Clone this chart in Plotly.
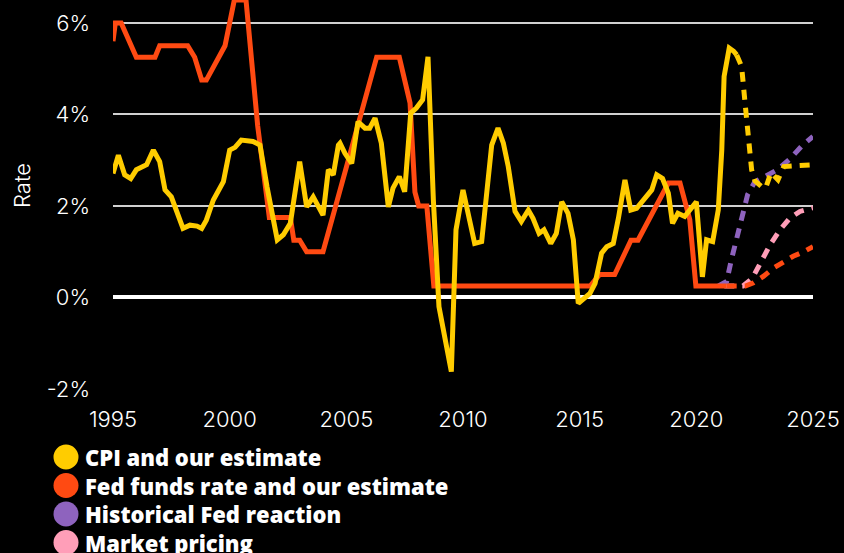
import plotly.graph_objects as go

# Fed funds rate (actual)
ffr_year = [1995.0, 1995.1, 1995.35, 1996.0, 1996.8, 1997.0, 1998.2, 1998.5, 1998.8, 1999.0,
            1999.8, 2000.2, 2000.7, 2001.2, 2001.7, 2002.6, 2002.75, 2003.0, 2003.3, 2004.0,
            2004.5, 2005.0, 2005.5, 2006.3, 2007.27, 2007.73, 2007.94, 2008.1, 2008.45, 2008.75,
            2015.45, 2015.85, 2016.5, 2017.2, 2017.5, 2018.8, 2019.3, 2019.72, 2019.98, 2021.3]
ffr_val = [5.6, 6.0, 6.0, 5.25, 5.25, 5.5, 5.5, 5.25, 4.75, 4.75,
           5.5, 6.5, 6.5, 3.75, 1.75, 1.75, 1.25, 1.25, 1.0, 1.0,
           1.92, 2.85, 3.77, 5.25, 5.25, 4.25, 2.3, 2.0, 2.0, 0.25,
           0.25, 0.5, 0.5, 1.25, 1.25, 2.5, 2.5, 1.7, 0.25, 0.25]

# Fed funds rate, our estimate
ffr_est_year = [2021.3, 2022.1, 2022.45, 2022.87, 2023.3, 2023.73, 2024.15, 2024.6, 2025.0]
ffr_est_val = [0.25, 0.25, 0.32, 0.46, 0.64, 0.78, 0.9, 1.0, 1.11]

# CPI (actual)
cpi_year = [1995.0, 1995.23, 1995.5, 1995.76, 1996.0, 1996.44, 1996.73, 1997.0, 1997.23, 1997.5,
            1998.0, 1998.3, 1998.6, 1998.8, 1999.0, 1999.3, 1999.73, 2000.0, 2000.23, 2000.5,
            2001.0, 2001.3, 2001.6, 2001.87, 2002.04, 2002.3, 2002.6, 2003.0, 2003.3, 2003.58,
            2004.0, 2004.23, 2004.44, 2004.66, 2004.73, 2004.94, 2005.23, 2005.5, 2005.8, 2006.0,
            2006.23, 2006.5, 2006.8, 2007.0, 2007.27, 2007.5, 2007.76, 2008.0, 2008.27, 2008.5,
            2008.73, 2008.97, 2009.5, 2009.7, 2010.0, 2010.5, 2010.8, 2011.23, 2011.5, 2011.73,
            2011.94, 2012.23, 2012.5, 2012.8, 2013.0, 2013.26, 2013.47, 2013.76, 2014.0, 2014.23,
            2014.5, 2014.73, 2014.94, 2015.44, 2015.66, 2015.94, 2016.16, 2016.44, 2016.66, 2016.94,
            2017.19, 2017.44, 2017.87, 2018.09, 2018.3, 2018.55, 2018.8, 2018.98, 2019.21, 2019.5,
            2020.0, 2020.26, 2020.44, 2020.7, 2020.94, 2021.09, 2021.19, 2021.41, 2021.6, 2021.73]
cpi_val = [2.71, 3.11, 2.68, 2.6, 2.79, 2.9, 3.22, 2.97, 2.35, 2.2,
           1.51, 1.58, 1.56, 1.51, 1.69, 2.13, 2.53, 3.22, 3.28, 3.44,
           3.41, 3.33, 2.42, 1.77, 1.26, 1.37, 1.62, 2.97, 1.98, 2.2,
           1.8, 2.79, 2.68, 3.33, 3.37, 3.15, 2.93, 3.84, 3.7, 3.7,
           3.92, 3.37, 1.98, 2.39, 2.64, 2.31, 4.03, 4.14, 4.32, 5.26,
           2.13, -0.2, -1.62, 1.48, 2.35, 1.18, 1.22, 3.33, 3.7, 3.37,
           2.86, 1.88, 1.66, 1.91, 1.73, 1.4, 1.48, 1.18, 1.4, 2.09,
           1.84, 1.26, -0.13, 0.09, 0.31, 0.97, 1.11, 1.18, 1.73, 2.57,
           1.91, 1.95, 2.2, 2.35, 2.68, 2.6, 2.28, 1.62, 1.84, 1.77,
           2.09, 0.45, 1.26, 1.22, 1.91, 3.22, 4.83, 5.45, 5.38, 5.3]

# CPI, our estimate
cpi_est_year = [2021.73, 2021.94, 2022.09, 2022.23, 2022.37, 2022.51, 2022.8, 2022.97, 2023.2,
                2023.5, 2023.75, 2024.3, 2025.0]
cpi_est_val = [5.3, 5.05, 4.24, 3.44, 2.79, 2.55, 2.42, 2.39, 2.73, 2.57, 2.86, 2.88, 2.9]

# Historical Fed reaction path
hist_year = [2020.95, 2021.3, 2021.5, 2021.87, 2022.2, 2022.5, 2023.0, 2023.5, 2024.0, 2024.5, 2025.0]
hist_val = [0.25, 0.35, 0.82, 1.55, 2.25, 2.52, 2.66, 2.8, 3.02, 3.3, 3.52]

# Market pricing path
mkt_year = [2021.2, 2022.0, 2022.4, 2022.75, 2023.16, 2023.59, 2024.0, 2024.44, 2025.0]
mkt_val = [0.25, 0.25, 0.42, 0.75, 1.15, 1.48, 1.73, 1.88, 1.96]

x_ticks = [1995, 2000, 2005, 2010, 2015, 2020, 2025]
y_ticks = [-2, 0, 2, 4, 6]
y_tick_labels = ["-2%", "0%", "2%", "4%", "6%"]

legend_names = ["CPI and our estimate", "Fed funds rate and our estimate",
                "Historical Fed reaction", "Market pricing"]

YELLOW = "#FFCC00"
RED = "#FF4A12"
PURPLE = "#8E63BE"
PINK = "#FF9EB8"
legend_colors = [YELLOW, RED, PURPLE, PINK]

LW = 5
DASH = "10px,8px"

fig = go.Figure()
fig.add_trace(go.Scatter(x=mkt_year, y=mkt_val, mode="lines",
                         line=dict(color=PINK, width=LW, dash=DASH)))
fig.add_trace(go.Scatter(x=hist_year, y=hist_val, mode="lines",
                         line=dict(color=PURPLE, width=LW, dash=DASH)))
fig.add_trace(go.Scatter(x=ffr_est_year, y=ffr_est_val, mode="lines",
                         line=dict(color=RED, width=LW, dash=DASH)))
fig.add_trace(go.Scatter(x=ffr_year, y=ffr_val, mode="lines",
                         line=dict(color=RED, width=LW)))
fig.add_trace(go.Scatter(x=cpi_est_year, y=cpi_est_val, mode="lines",
                         line=dict(color=YELLOW, width=LW, dash=DASH)))
fig.add_trace(go.Scatter(x=cpi_year, y=cpi_val, mode="lines",
                         line=dict(color=YELLOW, width=LW)))

# Plot area geometry in pixels (for the custom legend)
L, R, T, B = 113, 31, 0, 164
W, H = 844, 553
pw, ph = W - L - R, H - T - B

def px_to_paper_x(px):
    return (px - L) / pw

def px_to_paper_y(py):
    return (H - B - py) / ph

shapes = []
annotations = []
row_y = [457, 485.5, 514, 542.5]
for name, color, ry in zip(legend_names, legend_colors, row_y):
    shapes.append(dict(type="circle", xref="paper", yref="paper",
                       xsizemode="pixel", ysizemode="pixel",
                       xanchor=px_to_paper_x(66), yanchor=px_to_paper_y(ry),
                       x0=-12.5, x1=12.5, y0=-12.5, y1=12.5,
                       fillcolor=color, line=dict(width=0)))
    annotations.append(dict(text=name, xref="paper", yref="paper",
                            x=px_to_paper_x(83), y=px_to_paper_y(ry),
                            xanchor="left", yanchor="middle", showarrow=False,
                            font=dict(family="Open Sans", size=22, color="white", weight=800)))

annotations.append(dict(text="Rate", xref="paper", yref="paper",
                        x=px_to_paper_x(22), y=px_to_paper_y(186),
                        xanchor="center", yanchor="middle", textangle=-90, showarrow=False,
                        font=dict(family="Inter", size=22, color="white", weight=300)))

TICKFONT = dict(family="Inter", size=22, color="white", weight=300)

fig.update_layout(
    width=W, height=H,
    margin=dict(l=L, r=R, t=T, b=B),
    paper_bgcolor="black", plot_bgcolor="black",
    showlegend=False,
    shapes=shapes, annotations=annotations,
    xaxis=dict(range=[1995, 2025], tickvals=x_ticks, showgrid=False, zeroline=False,
               showline=False, ticks="", ticklabelstandoff=15, tickfont=TICKFONT),
    yaxis=dict(range=[-2, 6.5], tickvals=y_ticks, ticktext=y_tick_labels,
               showgrid=True, gridcolor="#d0d0d0", gridwidth=2,
               zeroline=True, zerolinecolor="white", zerolinewidth=4,
               showline=False, ticks="", ticklabelstandoff=22, tickfont=TICKFONT),
)

fig.write_html("out.html")
